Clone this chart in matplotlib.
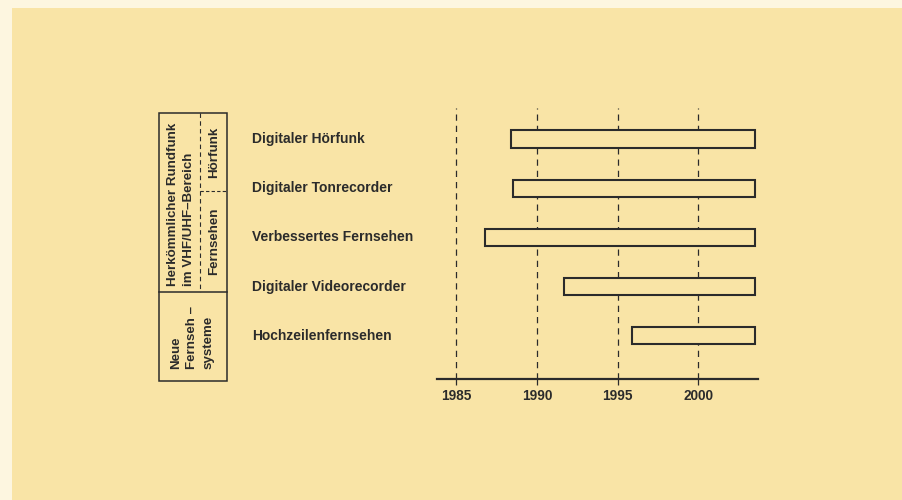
import matplotlib
matplotlib.use("Agg")
import matplotlib.pyplot as plt
from matplotlib.patches import Rectangle
from matplotlib.transforms import blended_transform_factory

# ---- data ----
categories = ["Digitaler Hörfunk", "Digitaler Tonrecorder", "Verbessertes Fernsehen",
              "Digitaler Videorecorder", "Hochzeilenfernsehen"]
start_years = [1988.4, 1988.5, 1986.8, 1991.7, 1995.9]
end_years = [2003.5, 2003.5, 2003.5, 2003.5, 2003.5]
tick_years = [1985, 1990, 1995, 2000]
group_main = "Herkömmlicher Rundfunk\nim VHF/UHF–Bereich"
group_sub1 = "Hörfunk"
group_sub2 = "Fernsehen"
group_new = "Neue\nFernseh –\nsysteme"

BG = "#F9E4A6"
INK = "#2b2b2b"
W, H = 903, 500

fig = plt.figure(figsize=(W / 100, H / 100), dpi=100)
fig.patch.set_facecolor("#FDF6E0")

# decoration layer in pixel coordinates
deco = fig.add_axes([0, 0, 1, 1])
deco.set_xlim(0, W)
deco.set_ylim(H, 0)
deco.axis("off")
deco.add_patch(Rectangle((12, 8), W - 12, H - 8, facecolor=BG, edgecolor="none", zorder=0))

# main chart axes (pixel box: x 437..758, y 108..379)
ax = fig.add_axes([437 / W, 1 - 379 / H, (758 - 437) / W, (379 - 108) / H])
ax.set_facecolor("none")
ax.set_xlim(1983.8, 2003.7)
n = len(categories)
ax.set_ylim(n - 1 + 0.88, -0.63)

for yr in tick_years:
    ax.axvline(yr, color=INK, lw=0.9, ls=(0, (5, 4)), zorder=1)

bar_h = 0.35
for i, (s, e) in enumerate(zip(start_years, end_years)):
    ax.add_patch(Rectangle((s, i - bar_h / 2), e - s, bar_h, facecolor=BG,
                           edgecolor=INK, lw=1.5, zorder=3))

for sp in ["top", "right", "left"]:
    ax.spines[sp].set_visible(False)
ax.spines["bottom"].set_color(INK)
ax.spines["bottom"].set_linewidth(1.6)
ax.set_yticks([])
ax.set_xticks(tick_years)
ax.set_xticklabels([str(t) for t in tick_years])
ax.tick_params(axis="x", direction="out", length=4, width=0.9, color=INK,
               labelsize=9.8, labelcolor=INK, pad=3)
for lab in ax.get_xticklabels():
    lab.set_fontfamily("Liberation Sans")
    lab.set_fontweight("bold")

# category labels aligned to bars
tr = blended_transform_factory(deco.transData, ax.transData)
for i, c in enumerate(categories):
    ax.text(252, i, c, transform=tr, ha="left", va="center", fontsize=10,
            fontfamily="Liberation Sans", fontweight="bold", color=INK)

# left group box
deco.add_patch(Rectangle((159, 113), 68, 268, facecolor="none", edgecolor=INK, lw=1.1, zorder=2))
deco.plot([159, 227], [292, 292], color=INK, lw=1.1)
deco.plot([200, 200], [113, 292], color=INK, lw=0.8, ls=(0, (4, 3)))
deco.plot([200, 227], [191, 191], color=INK, lw=0.8, ls=(0, (3, 2)))

tfont = dict(fontfamily="Liberation Sans", fontweight="bold", color=INK, rotation=90,
             linespacing=1.45, fontsize=9.6)
deco.text(181, 286, group_main, ha="center", va="bottom", multialignment="left", **tfont)
deco.text(214, 152, group_sub1, ha="center", va="center", **tfont)
deco.text(214, 241, group_sub2, ha="center", va="center", **tfont)
deco.text(192, 369, group_new, ha="center", va="bottom", multialignment="left", **tfont)

fig.savefig("out.png", dpi=100, facecolor=fig.get_facecolor())
